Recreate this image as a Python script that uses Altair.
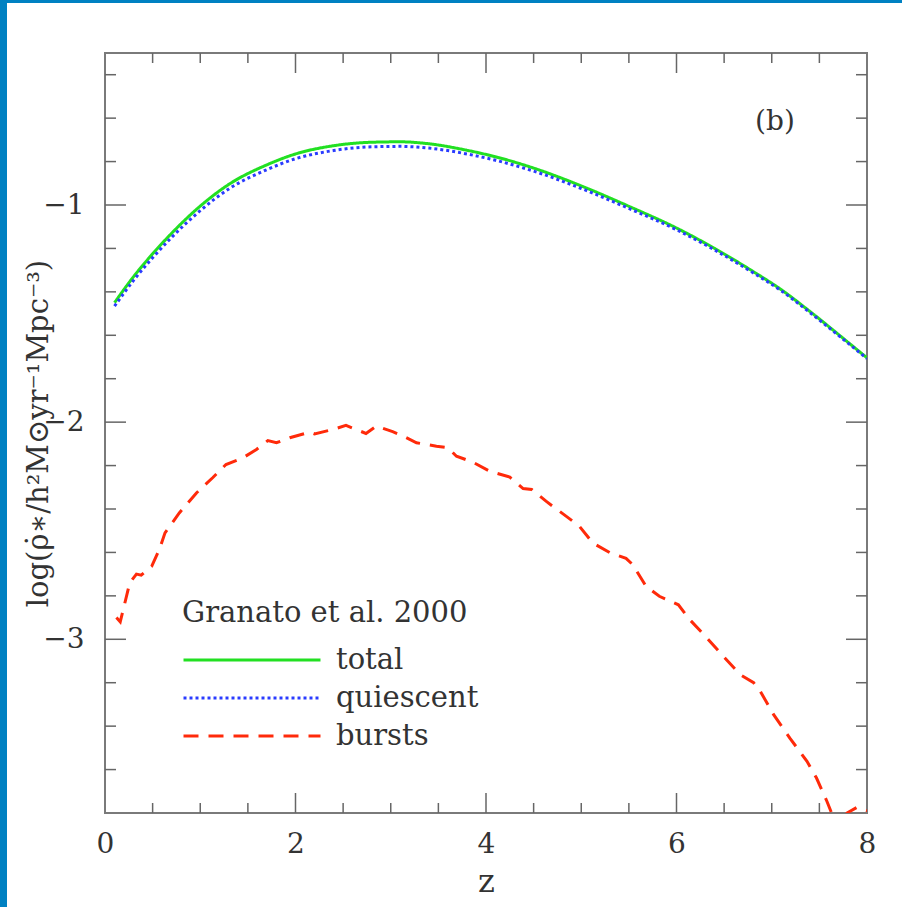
import altair as alt
import pandas as pd

# ---------------- data ----------------
series_names = ["total", "quiescent", "bursts"]
series_colors = ["#22e022", "#2a3cff", "#ff2a0a"]
series_dashes = [[1, 0], [3, 3], [15, 10]]
legend_title = "Granato et al. 2000"
panel_label = "(b)"
x_title = "z"
y_title = "log(ρ̇∗/h²M⊙yr⁻¹Mpc⁻³)"

z_smooth = [0.1, 0.3, 0.5, 0.7, 1.0, 1.3, 1.7, 2.0, 2.4, 2.8, 3.1, 3.4, 3.8,
            4.1, 4.5, 5.0, 5.5, 6.0, 6.4, 6.8, 7.1, 7.4, 7.8, 8.0]
total = [-1.45, -1.33, -1.225, -1.13, -1.005, -0.905, -0.815, -0.765, -0.727,
         -0.711, -0.709, -0.718, -0.748, -0.778, -0.83, -0.912, -1.006, -1.106,
         -1.20, -1.305, -1.39, -1.49, -1.632, -1.704]
quiescent = [-1.466, -1.347, -1.243, -1.149, -1.026, -0.926, -0.837, -0.787,
             -0.749, -0.732, -0.73, -0.738, -0.765, -0.794, -0.844, -0.924,
             -1.016, -1.114, -1.207, -1.311, -1.395, -1.495, -1.636, -1.707]

z_bursts = [0.12, 0.16, 0.26, 0.33, 0.38, 0.49, 0.57, 0.63, 0.78, 0.96,
            1.13, 1.27, 1.45, 1.59, 1.71, 1.80, 1.94, 2.15, 2.2, 2.39,
            2.53, 2.74, 2.85, 3.02, 3.13, 3.27, 3.48, 3.60, 3.69, 3.86,
            4.04, 4.25, 4.39, 4.48, 4.63, 4.84, 4.98, 5.12, 5.30, 5.47,
            5.54, 5.68, 5.82, 6.02, 6.14, 6.32, 6.49, 6.67, 6.81, 6.88,
            7.02, 7.19, 7.37, 7.47, 7.58, 7.70, 7.79, 7.89, 8.0]
bursts = [-2.90, -2.92, -2.74, -2.70, -2.705, -2.664, -2.587, -2.51, -2.418, -2.326,
          -2.256, -2.195, -2.164, -2.126, -2.085, -2.095, -2.072, -2.046, -2.054, -2.034,
          -2.015, -2.052, -2.018, -2.044, -2.064, -2.095, -2.111, -2.118, -2.157, -2.184,
          -2.226, -2.253, -2.306, -2.31, -2.364, -2.433, -2.479, -2.556, -2.601, -2.627,
          -2.656, -2.756, -2.802, -2.841, -2.910, -2.994, -3.078, -3.163, -3.200, -3.240,
          -3.347, -3.455, -3.562, -3.639, -3.747, -3.88, -3.80, -3.775, -3.79]

x_domain = [0, 8]
y_domain = [-3.8, -0.3]
x_label_values = [0, 2, 4, 6, 8]
x_major_ticks = [2, 4, 6]
x_minor_ticks = [0.5, 1, 1.5, 2.5, 3, 3.5, 4.5, 5, 5.5, 6.5, 7, 7.5]
y_label_values = [-1, -2, -3]
y_major_ticks = [-1, -2, -3]
y_minor_ticks = [-0.4, -0.6, -0.8, -1.2, -1.4, -1.6, -1.8, -2.2, -2.4,
                 -2.6, -2.8, -3.2, -3.4, -3.6]

# ---------------- layout / style ----------------
W, H = 762, 760
PAD = {"left": 105, "top": 53, "right": 35, "bottom": 94}
FONT = "DejaVu Serif"
TXT = "#333333"
FRAME = "#7a7a7a"
TICK = "#666666"
BORDER = "#0081c2"
INTERP = {"total": "monotone", "quiescent": "monotone", "bursts": "linear"}

rows = []
for name, vals in (("total", total), ("quiescent", quiescent)):
    for z, v in zip(z_smooth, vals):
        rows.append({"z": z, "value": v, "series": name})
for z, v in zip(z_bursts, bursts):
    rows.append({"z": z, "value": v, "series": "bursts"})
df_lines = pd.DataFrame(rows)

xs = alt.Scale(domain=x_domain, nice=False, zero=False)
ys = alt.Scale(domain=y_domain, nice=False, zero=False)

x_axis = alt.Axis(values=x_label_values, ticks=False, domain=False, grid=False,
                  labelFont=FONT, labelFontSize=28, labelColor=TXT, labelPadding=17,
                  labelFlush=False, labelOverlap=False,
                  title=x_title, titleFont=FONT, titleFontSize=32, titleFontWeight="normal",
                  titleColor=TXT, titleY=68, titleBaseline="middle")
y_axis = alt.Axis(values=y_label_values, ticks=False, domain=False, grid=False,
                  labelFont=FONT, labelFontSize=28, labelColor=TXT, labelPadding=21,
                  labelFlush=False, labelOverlap=False,
                  title=y_title, titleFont=FONT, titleFontSize=29, titleFontWeight="normal",
                  titleColor=TXT, titleAngle=270, titleX=-67, titleY=H / 2,
                  titleBaseline="middle", titleAlign="center", titleLimit=0)

leg = alt.Legend(title=legend_title, orient="none", legendX=77, legendY=546,
                 symbolType="stroke", symbolSize=137 * 137, symbolStrokeWidth=3,
                 clipHeight=38, rowPadding=0, padding=0, labelOffset=14,
                 titlePadding=13, labelFont=FONT, titleFont=FONT, labelFontSize=29,
                 titleFontSize=29, titleFontWeight="normal", labelColor=TXT,
                 titleColor=TXT, labelLimit=0, titleLimit=0)

cs = alt.Scale(domain=series_names, range=series_colors)
ds = alt.Scale(domain=series_names, range=series_dashes)


def X(field):
    return alt.X(field, type="quantitative", scale=xs, axis=x_axis)


def Y(field):
    return alt.Y(field, type="quantitative", scale=ys, axis=y_axis)


line_layers = []
for name in series_names:
    line_layers.append(
        alt.Chart(df_lines)
        .transform_filter(alt.datum.series == name)
        .mark_line(clip=True, strokeWidth=3, strokeCap="butt", interpolate=INTERP[name])
        .encode(x=X("z"), y=Y("value"),
                color=alt.Color("series:N", scale=cs, legend=leg),
                strokeDash=alt.StrokeDash("series:N", scale=ds, legend=leg),
                order=alt.Order("z:Q"))
    )


def ydf(vals):
    return pd.DataFrame({"v": vals})


tick_layers = []
for vals, ln in ((y_minor_ticks, 11), (y_major_ticks, 21)):
    tick_layers.append(alt.Chart(ydf(vals)).mark_rule(color=TICK, strokeWidth=1.5)
                       .encode(y=Y("v"), x=alt.value(0), x2=alt.value(ln)))
    tick_layers.append(alt.Chart(ydf(vals)).mark_rule(color=TICK, strokeWidth=1.5)
                       .encode(y=Y("v"), x=alt.value(W), x2=alt.value(W - ln)))
for vals, ln in ((x_minor_ticks, 10), (x_major_ticks, 20)):
    tick_layers.append(alt.Chart(ydf(vals)).mark_rule(color=TICK, strokeWidth=1.5)
                       .encode(x=X("v"), y=alt.value(H), y2=alt.value(H - ln)))
    tick_layers.append(alt.Chart(ydf(vals)).mark_rule(color=TICK, strokeWidth=1.5)
                       .encode(x=X("v"), y=alt.value(0), y2=alt.value(ln)))

one = pd.DataFrame({"k": [0]})
label_layer = alt.Chart(one).mark_text(font=FONT, fontSize=28, color=TXT,
                                       align="center", baseline="middle").encode(
    x=alt.value(670), y=alt.value(69), text=alt.value(panel_label))

border_left = alt.Chart(one).mark_rect(color=BORDER).encode(
    x=alt.value(-PAD["left"]), x2=alt.value(-PAD["left"] + 7),
    y=alt.value(-PAD["top"]), y2=alt.value(H + PAD["bottom"]))
border_top = alt.Chart(one).mark_rect(color=BORDER).encode(
    x=alt.value(-PAD["left"]), x2=alt.value(W + PAD["right"]),
    y=alt.value(-PAD["top"]), y2=alt.value(-PAD["top"] + 3))

chart = (
    alt.layer(*tick_layers, *line_layers, label_layer, border_left, border_top)
    .properties(width=W, height=H, padding=PAD,
                autosize=alt.AutoSizeParams(type="none"), background="white")
    .configure_view(stroke=FRAME, strokeWidth=2)
)

chart.save("out.html", embed_options={"renderer": "svg", "actions": False})
